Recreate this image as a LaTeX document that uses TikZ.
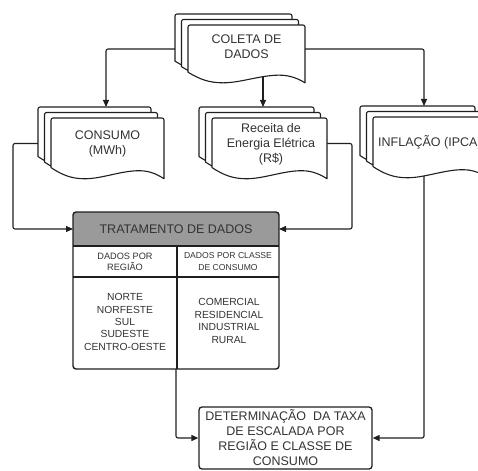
\documentclass[tikz,border=0pt]{standalone}
\usepackage{fontspec}
\setmainfont{Liberation Sans}
\usetikzlibrary{arrows.meta,backgrounds}

\definecolor{ink}{HTML}{1F1F1F}
\definecolor{txt}{HTML}{333333}
\definecolor{headgray}{HTML}{9A9A9A}

\tikzset{
  pageshape/.style={draw=ink, fill=white, line width=1.1pt, line join=round},
  stackbox/.style={rectangle, inner sep=0pt, outer sep=0pt},
  doctext/.style={text=txt, align=center, inner sep=0pt,
    font=\fontsize{12.5}{15}\selectfont},
  headtext/.style={stackbox, text=txt, align=center,
    font=\fontsize{12.5}{15}\selectfont},
  smallcell/.style={stackbox, text=txt, align=center,
    font=\fontsize{9.2}{11}\selectfont},
  tinycell/.style={stackbox, text=txt, align=center,
    font=\fontsize{8.6}{11.5}\selectfont},
  listcell/.style={stackbox, text=txt, align=center,
    font=\fontsize{10.3}{12.4}\selectfont},
  tableline/.style={draw=ink, line width=1.2pt},
  tableborder/.style={draw=ink, line width=1.4pt, rounded corners=3pt},
  resultbox/.style={rectangle, draw=ink, fill=white, line width=1.3pt,
    rounded corners=3pt, inner sep=0pt, text=txt, align=center,
    font=\fontsize{12.5}{15}\selectfont},
  conn/.style={draw=ink, line width=1.1pt, rounded corners=2pt,
    -{Triangle[length=7pt,width=6pt]}},
  plainconn/.style={draw=ink, line width=1.1pt, rounded corners=2pt},
}

% one sheet of a document symbol: left x, top y, width, height
\newcommand{\docpage}[4]{%
  \filldraw[pageshape, shift={({#1},{#2})}]
    (0,{0.8*(#4)}) [rounded corners=2pt] -- (0,0) -- ({#3},0)
    [sharp corners] -- ({#3},{0.98*(#4)})
    .. controls ({0.95*(#3)},{0.92*(#4)}) and ({0.88*(#3)},{0.85*(#4)}) .. ({0.78*(#3)},{0.85*(#4)})
    .. controls ({0.62*(#3)},{0.85*(#4)}) and ({0.45*(#3)},{0.98*(#4)}) .. ({0.3*(#3)},{0.98*(#4)})
    .. controls ({0.18*(#3)},{0.98*(#4)}) and ({0.1*(#3)},{0.92*(#4)}) .. cycle;}

% stack of three sheets plus a named node covering the whole stack
\newcommand{\docstack}[5]{%
  \docpage{#2-13}{#3-11}{#4}{#5}
  \docpage{#2-6.5}{#3-5.5}{#4}{#5}
  \docpage{#2}{#3}{#4}{#5}
  \node[stackbox, minimum width={#4+13}, minimum height={#5+11}] (#1)
    at ({#2-13+(#4+13)/2},{#3-11+(#5+11)/2}) {};}

\begin{document}
\begin{tikzpicture}[x=1pt,y=-1pt]
\useasboundingbox (0,0) rectangle (478,470);
\clip (0,0) rectangle (478,470);

% data sources
\docstack{coleta}{188}{25}{117}{59}
\node[doctext] (coleta-txt) at (246.5,47) {COLETA DE\\DADOS};

\docstack{consumo}{51}{118}{113}{62}
\node[doctext] (consumo-txt) at (107.5,143.5) {CONSUMO\\(MWh)};

\docstack{receita}{212}{118}{115}{62}
\node[doctext] (receita-txt) at (271,144) {Receita de\\Energia Elétrica\\(R\$)};

\docstack{inflacao}{373}{117}{115}{62}
\node[doctext, anchor=west] (inflacao-txt) at (378,142) {INFLAÇÃO (IPCA)};

% processing table
\node[stackbox, minimum width=206, minimum height=157] (tabela) at (176,290.5) {};
\fill[white, rounded corners=3pt] (tabela.north west) rectangle (tabela.south east);
\begin{scope}
  \clip[rounded corners=3pt] (tabela.north west) rectangle (tabela.south east);
  \fill[headgray] (tabela.north west) rectangle ([yshift=-34pt]tabela.north east);
\end{scope}
\node[headtext, minimum width=206, minimum height=34] (trat) at (176,229) {TRATAMENTO DE DADOS};
\node[smallcell, minimum width=104, minimum height=31] (regiao) at (125,261.5) {DADOS POR\\REGIÃO};
\node[tinycell, minimum width=102, minimum height=31] (classe) at (228,261.5) {DADOS POR CLASSE\\DE CONSUMO};
\node[listcell] (regioes) at (125,322) {NORTE\\NORFESTE\\SUL\\SUDESTE\\CENTRO-OESTE};
\node[listcell] (classes) at (229,321) {COMERCIAL\\RESIDENCIAL\\INDUSTRIAL\\RURAL};
\draw[tableline] (trat.south west) -- (trat.south east);
\draw[tableline] (regiao.south west) -- (classe.south east);
\draw[tableline] (regiao.north east) -- (regiao.north east |- tabela.south);
\draw[tableborder] (tabela.north west) rectangle (tabela.south east);

% result
\node[resultbox, minimum width=173, minimum height=62] (determ) at (285.5,438)
  {DETERMINAÇÃO\ \ DA TAXA\\DE ESCALADA POR\\REGIÃO E CLASSE DE\\CONSUMO};

% connectors
\begin{pgfonlayer}{background}
  \draw[conn] (coleta.west) -| ([xshift=5pt]consumo.north);
  \draw[conn] (coleta.east) -| (inflacao.north);
  \draw[conn] (coleta.center -| receita.north) -- (receita.north);
  \draw[conn] (consumo.west) -- ++(-25,0) |- (trat.west);
  \draw[conn] (receita.east) -- ++(25,0) |- (trat.east);
  \draw[conn] (inflacao.center) |- (determ.east);
  \draw[conn] (tabela.south) |- (determ.west);
\end{pgfonlayer}
\end{tikzpicture}
\end{document}
